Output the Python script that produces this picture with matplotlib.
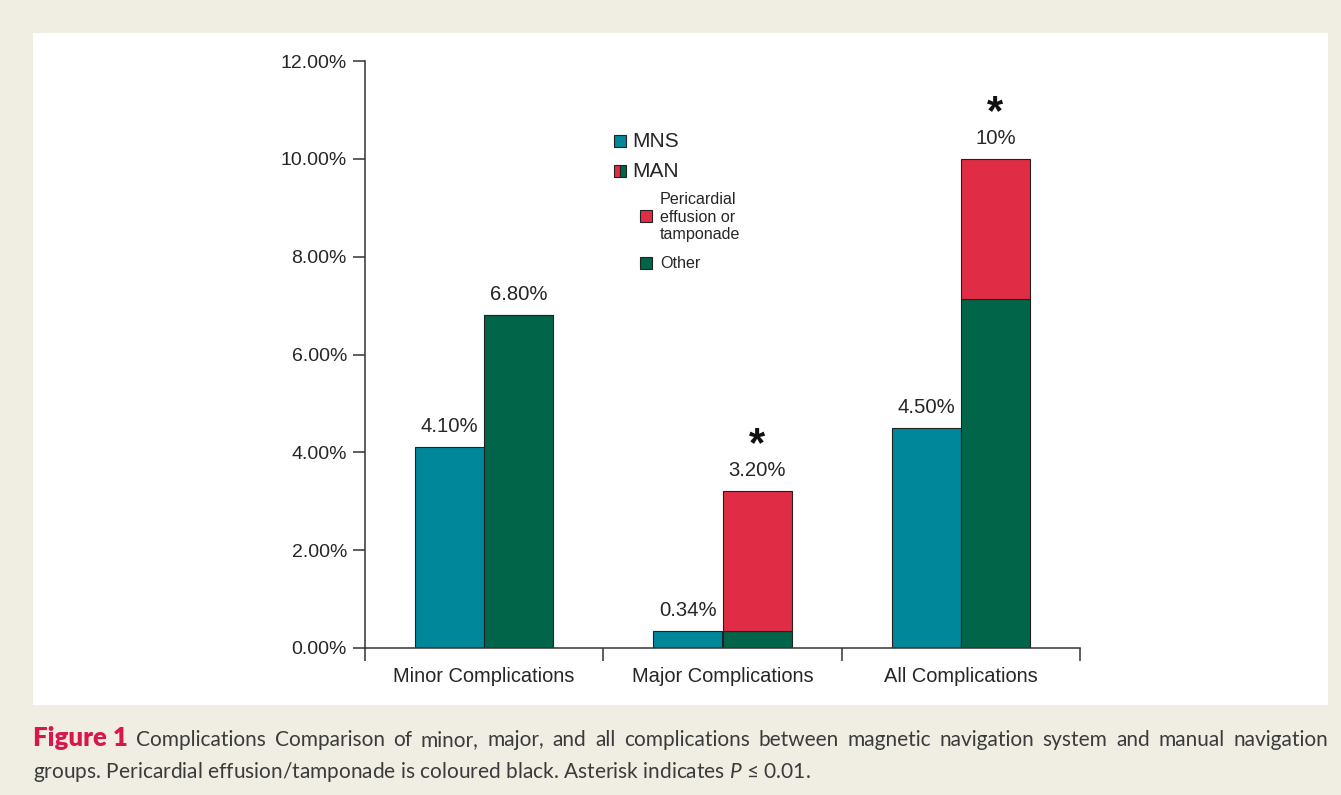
import matplotlib
matplotlib.use("Agg")
import matplotlib.pyplot as plt
from matplotlib.patches import Rectangle
import numpy as np

plt.rcParams['font.family'] = ['Liberation Sans', 'DejaVu Sans']
plt.rcParams['mathtext.fontset'] = 'custom'
plt.rcParams['mathtext.it'] = 'Lato:italic'
plt.rcParams['mathtext.rm'] = 'Lato'
plt.rcParams['mathtext.bf'] = 'Liberation Sans:bold'

categories = ["Minor Complications", "Major Complications", "All Complications"]
mns_values = [4.10, 0.34, 4.50]
man_other = [6.80, 0.34, 7.14]
man_pericardial = [0.0, 2.86, 2.86]
mns_labels = ["4.10%", "0.34%", "4.50%"]
man_labels = ["6.80%", "3.20%", "10%"]
significant = [False, True, True]
yticks = [0, 2, 4, 6, 8, 10, 12]
ytick_labels = ["0.00%", "2.00%", "4.00%", "6.00%", "8.00%", "10.00%", "12.00%"]

C_MNS = "#00879a"
C_OTHER = "#006549"
C_RED = "#e02d45"
BG = "#f0ede2"
TXT = "#262626"

W, H = 1341, 795
fig = plt.figure(figsize=(W / 100, H / 100), dpi=100)
fig.patch.set_facecolor(BG)
fig.patches.append(Rectangle((33 / W, 1 - 705 / H), (1328 - 33) / W, (705 - 33) / H,
                             transform=fig.transFigure, facecolor="white", edgecolor="none", zorder=-10))

ax = fig.add_axes([365 / W, 1 - 648 / H, (1080 - 365) / W, (648 - 61) / H])
ax.set_zorder(5)
ax.set_facecolor("none")
x = np.arange(len(categories))
bw = 0.29
ax.bar(x - bw / 2, mns_values, bw, color=C_MNS, edgecolor="#222222", linewidth=0.8)
ax.bar(x + bw / 2, man_other, bw, color=C_OTHER, edgecolor="#222222", linewidth=0.8)
ax.bar(x + bw / 2, man_pericardial, bw, bottom=man_other, color=C_RED, edgecolor="#222222", linewidth=0.8)

ax.set_xlim(-0.5, 2.5)
ax.set_ylim(0, 12)
ax.set_yticks(yticks)
ax.set_yticklabels(ytick_labels, fontsize=14, color=TXT)
ax.set_xticks([-0.5, 0.5, 1.5, 2.5])
ax.set_xticklabels([])
ax.set_xticks(x, minor=True)
ax.set_xticklabels(categories, minor=True, fontsize=14.4, color=TXT)
ax.tick_params(axis="x", which="minor", length=0, pad=14)
ax.tick_params(axis="x", which="major", length=9, width=1.1, color="#333333", direction="out")
ax.tick_params(axis="y", length=9, width=1.1, color="#333333", direction="out", pad=4)
for s in ["top", "right"]:
    ax.spines[s].set_visible(False)
for s in ["left", "bottom"]:
    ax.spines[s].set_color("#333333")
    ax.spines[s].set_linewidth(1.1)

for i in range(len(categories)):
    ax.annotate(mns_labels[i], (x[i] - bw / 2, mns_values[i]), xytext=(0, 15),
                textcoords="offset points", ha="center", va="center", fontsize=14.6, color=TXT)
    top = man_other[i] + man_pericardial[i]
    ax.annotate(man_labels[i], (x[i] + bw / 2, top), xytext=(0, 15),
                textcoords="offset points", ha="center", va="center", fontsize=14.6, color=TXT)
    if significant[i]:
        ax.annotate(r"$\mathbf{*}$", (x[i] + bw / 2, top), xytext=(0, 34),
                    textcoords="offset points", ha="center", va="center", fontsize=30,
                    color="#111111")

# custom legend
def ax_pt(px, py):
    return ((px - 365) / 715, (648 - py) / 587)

sq_w, sq_h = 12 / 715, 12 / 587
def square(px, py, color, split=None):
    cx, cy = ax_pt(px, py)
    if split is None:
        ax.add_patch(Rectangle((cx - sq_w / 2, cy - sq_h / 2), sq_w, sq_h, transform=ax.transAxes,
                               facecolor=color, edgecolor="#222222", linewidth=0.8, clip_on=False))
    else:
        ax.add_patch(Rectangle((cx - sq_w / 2, cy - sq_h / 2), sq_w / 2, sq_h, transform=ax.transAxes,
                               facecolor=color, edgecolor="#222222", linewidth=0.8, clip_on=False))
        ax.add_patch(Rectangle((cx, cy - sq_h / 2), sq_w / 2, sq_h, transform=ax.transAxes,
                               facecolor=split, edgecolor="#222222", linewidth=0.8, clip_on=False))

square(620, 141, C_MNS)
ax.text(*ax_pt(632, 141), "MNS", transform=ax.transAxes, ha="left", va="center", fontsize=15, color=TXT)
square(620, 171, C_RED, split=C_OTHER)
ax.text(*ax_pt(632, 171), "MAN", transform=ax.transAxes, ha="left", va="center", fontsize=15, color=TXT)
square(646, 216, C_RED)
ax.text(*ax_pt(660, 217), "Pericardial\neffusion or\ntamponade", transform=ax.transAxes, ha="left",
        va="center", fontsize=11.6, color=TXT, linespacing=1.2)
square(646, 263, C_OTHER)
ax.text(*ax_pt(660, 263), "Other", transform=ax.transAxes, ha="left", va="center", fontsize=11.6, color=TXT)

# caption
cap_font = ["Lato", "DejaVu Sans"]
cap_size = 15
cap_color = "#3b3b3b"
renderer = fig.canvas.get_renderer()
line1_words = ["Complications", "Comparison", "of", "minor,", "major,", "and", "all", "complications",
               "between", "magnetic", "navigation", "system", "and", "manual", "navigation"]
y1 = 1 - 746 / H
t0 = fig.text(33 / W, y1, "Figure 1", fontsize=18.5, fontweight="heavy", color="#d8174b",
              family=cap_font, ha="left", va="baseline")
ext0 = t0.get_window_extent(renderer)
texts = []
widths = []
for w in line1_words:
    t = fig.text(0, y1, w, fontsize=cap_size, color=cap_color, family=cap_font, ha="left", va="baseline")
    texts.append(t)
    widths.append(t.get_window_extent(renderer).width)
start = ext0.x1
end = 1328
gap = (end - start - sum(widths)) / len(line1_words)
pos = start + gap
for t, wdt in zip(texts, widths):
    t.set_x(pos / W)
    pos += wdt + gap

fig.text(33 / W, 1 - 778 / H,
         r"groups. Pericardial effusion/tamponade is coloured black. Asterisk indicates $\mathit{P}$ ≤ 0.01.",
         fontsize=cap_size, color=cap_color, family=cap_font, ha="left", va="baseline")

fig.savefig("out.png", dpi=100, facecolor=BG)
